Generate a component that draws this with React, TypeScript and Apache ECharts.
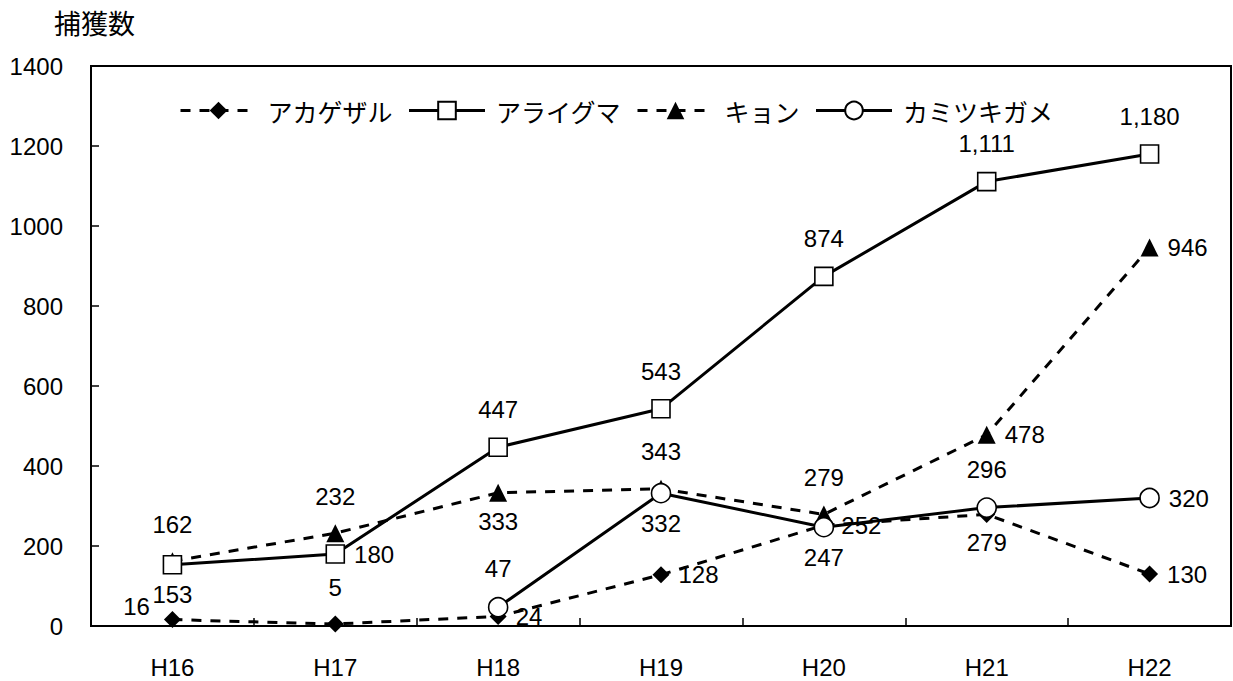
import React, { useEffect, useRef } from "react";
import * as echarts from "echarts";

const categories = ["H16", "H17", "H18", "H19", "H20", "H21", "H22"];
const seriesNames = ["アカゲザル", "アライグマ", "キョン", "カミツキガメ"];
const akagezaru = [16, 5, 24, 128, 252, 279, 130];
const araiguma = [153, 180, 447, 543, 874, 1111, 1180];
const kyon = [162, 232, 333, 343, 279, 478, 946];
const kamitsukigame: (number | null)[] = [null, null, 47, 332, 247, 296, 320];
const yTicks = { min: 0, max: 1400, interval: 200 };

const FONT = "'Liberation Sans', 'Noto Sans CJK JP', sans-serif";
const JFONT = "'Noto Sans CJK JP', sans-serif";

// label placement per point (style only)
const labelPos: Record<string, string[]> = {
  akagezaru: ["left", "top", "right", "right", "right", "bottom", "right"],
  araiguma: ["bottom", "right", "top", "top", "top", "top", "top"],
  kyon: ["top", "top", "bottom", "top", "top", "right", "right"],
  kamitsukigame: ["top", "top", "top", "bottom", "bottom", "top", "right"],
};

function buildData(values: (number | null)[], pos: string[]) {
  return values.map((v, i) => {
    const p = pos[i];
    const dist = p === "top" ? 16 : p === "bottom" ? 8 : 9;
    const label: any = { position: p, distance: dist };
    if (p === "left") {
      label.offset = [0, -13];
      label.distance = 14;
    }
    return { value: v, label };
  });
}

export default function App() {
  const ref = useRef<HTMLDivElement>(null);
  useEffect(() => {
    if (!ref.current) return;
    const chart = echarts.init(ref.current, null, { renderer: "svg" });
    const labelBase = {
      show: true,
      color: "#000",
      fontSize: 24,
      fontFamily: FONT,
      formatter: (p: any) => (p.value == null ? "" : Number(p.value).toLocaleString("en-US")),
    };
    const mk = (
      name: string,
      values: (number | null)[],
      pos: string[],
      symbol: string,
      filled: boolean,
      dashed: boolean,
      size: number
    ) => ({
      name,
      type: "line",
      data: buildData(values, pos),
      symbol,
      symbolSize: size,
      showAllSymbol: true,
      connectNulls: false,
      lineStyle: { color: "#000", width: 3, type: dashed ? [10, 9] : "solid" },
      itemStyle: {
        color: filled ? "#000" : "#fff",
        borderColor: "#000",
        borderWidth: filled ? 0 : 1.6,
      },
      label: labelBase,
      emphasis: { disabled: true },
      z: filled ? 3 : 4,
    });
    chart.setOption({
      animation: false,
      backgroundColor: "#fff",
      textStyle: { fontFamily: FONT, color: "#000" },
      graphic: [
        {
          type: "text",
          left: 54,
          top: 9,
          style: { text: "捕獲数", fontSize: 27, fontFamily: JFONT, fill: "#000" },
        },
      ],
      legend: {
        left: 174,
        top: 93,
        itemWidth: 76,
        itemHeight: 22,
        itemGap: 15,
        lineStyle: { width: 3 },
        textStyle: { fontSize: 25, color: "#000", fontFamily: JFONT, padding: [0, 0, 0, 6] },
        data: seriesNames,
      },
      grid: {
        left: 91,
        right: 2,
        top: 66,
        bottom: 55,
        show: true,
        borderColor: "#000",
        borderWidth: 2,
        backgroundColor: "transparent",
        containLabel: false,
      },
      xAxis: {
        type: "category",
        data: categories,
        boundaryGap: true,
        axisLine: { lineStyle: { color: "#000", width: 2 } },
        axisTick: { show: true, inside: true, length: 8, lineStyle: { color: "#000", width: 1.5 } },
        axisLabel: { color: "#000", fontSize: 24, fontFamily: FONT, margin: 29 },
        splitLine: { show: false },
      },
      yAxis: {
        type: "value",
        min: yTicks.min,
        max: yTicks.max,
        interval: yTicks.interval,
        axisLine: { show: true, lineStyle: { color: "#000", width: 2 } },
        axisTick: { show: true, inside: true, length: 8, lineStyle: { color: "#000", width: 1.5 } },
        axisLabel: { color: "#000", fontSize: 24, fontFamily: FONT, margin: 28, formatter: (v: number) => String(v) },
        splitLine: { show: false },
      },
      series: [
        mk(seriesNames[0], akagezaru, labelPos.akagezaru, "diamond", true, true, 17),
        mk(seriesNames[1], araiguma, labelPos.araiguma, "rect", false, false, 18),
        mk(seriesNames[2], kyon, labelPos.kyon, "triangle", true, true, 18),
        mk(seriesNames[3], kamitsukigame, labelPos.kamitsukigame, "circle", false, false, 19),
      ],
    });
    return () => chart.dispose();
  }, []);
  return (
    <div
      ref={ref}
      style={{ position: "fixed", left: 0, top: 0, width: 1233, height: 681, background: "#fff" }}
    />
  );
}
